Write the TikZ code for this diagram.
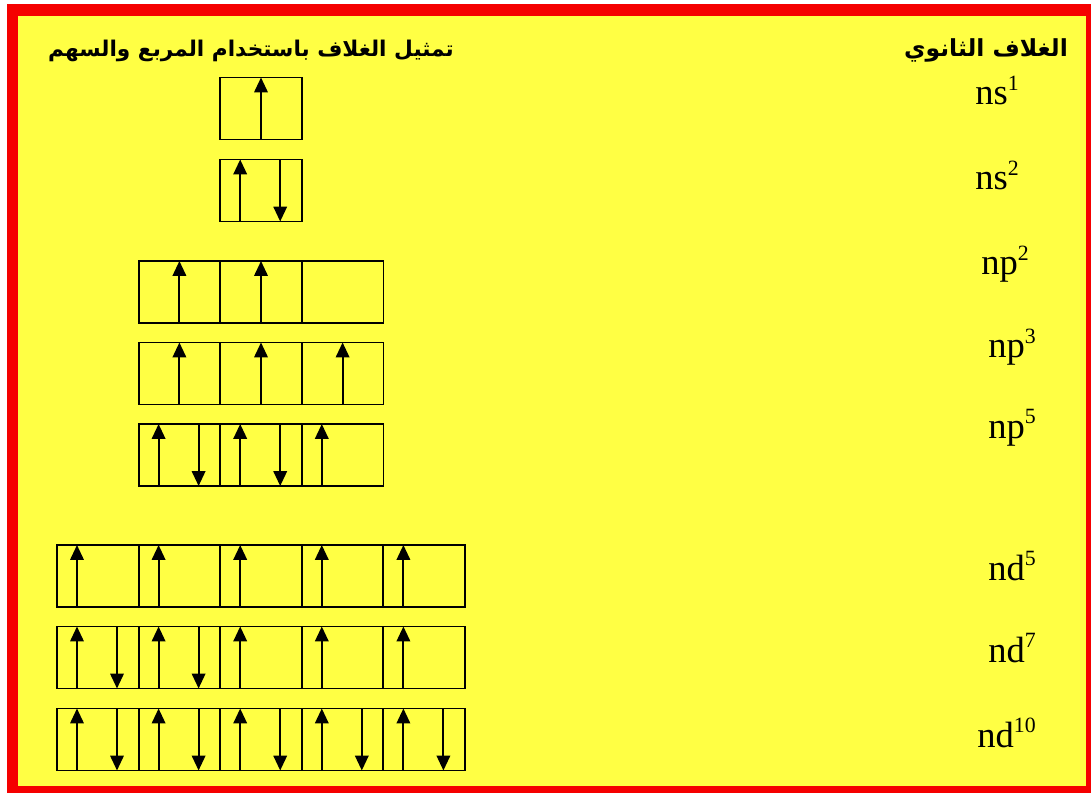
\documentclass[tikz,border=0pt]{standalone}
\usepackage{fontspec}
\setmainfont{Liberation Serif}
\newfontfamily\arabicfont[Script=Arabic]{DejaVu Sans}
\TeXXeTstate=1
\usetikzlibrary{arrows.meta}
\definecolor{paneyellow}{RGB}{255,255,68}
\definecolor{framered}{RGB}{245,0,0}

\newcommand{\spinup}[2]{\draw[spin] ([xshift=#2]#1.south west) -- ([xshift=#2]#1.north west);}
\newcommand{\spindown}[2]{\draw[spin] ([xshift=#2]#1.north west) -- ([xshift=#2]#1.south west);}
\newcommand{\subshell}[2]{{\fontsize{26}{26}\selectfont #1}\raisebox{10pt}{\fontsize{15.5}{16}\selectfont #2}}

\begin{document}
\begin{tikzpicture}[x=0.025cm, y=-0.025cm,
  orb/.style={draw, line width=1.3pt, minimum width=2.04cm, minimum height=1.55cm, inner sep=0pt, outer sep=0pt},
  spin/.style={line width=1.4pt, -{Triangle[width=9.5pt,length=10.5pt]}},
  lvl/.style={anchor=base west, inner sep=0pt},
  head/.style={font={\arabicfont\bfseries\fontsize{#1}{20}\selectfont}, inner sep=0pt}]
  \useasboundingbox (0,0) rectangle (1091,793);
  % Frame
  \fill[framered] (7,4) rectangle (1091,793);
  \fill[paneyellow] (18,16) rectangle (1086,786);
  % Headings
  \node[head=15.4] (boxhead) at (251,51) {\beginR تمثيل الغلاف باستخدام المربع والسهم\endR};
  \node[head=16.7] (shellhead) at (986,50) {\beginR الغلاف الثانوي\endR};
  % s sublevels
  \node[orb] (s1a) at (261,108.5) {};
  \spinup{s1a}{1.02cm}
  \node[orb] (s2a) at (261,190.5) {};
  \spinup{s2a}{0.5cm} \spindown{s2a}{1.5cm}
  % p sublevels
  \node[orb] (p2a) at (179.4,292) {};
  \node[orb] (p2b) at (261,292) {};
  \node[orb] (p2c) at (342.6,292) {};
  \spinup{p2a}{1.02cm} \spinup{p2b}{1.02cm}
  \node[orb] (p3a) at (179.4,373.5) {};
  \node[orb] (p3b) at (261,373.5) {};
  \node[orb] (p3c) at (342.6,373.5) {};
  \spinup{p3a}{1.02cm} \spinup{p3b}{1.02cm} \spinup{p3c}{1.02cm}
  \node[orb] (p5a) at (179.4,455) {};
  \node[orb] (p5b) at (261,455) {};
  \node[orb] (p5c) at (342.6,455) {};
  \spinup{p5a}{0.5cm} \spindown{p5a}{1.5cm}
  \spinup{p5b}{0.5cm} \spindown{p5b}{1.5cm}
  \spinup{p5c}{0.5cm}
  % d sublevels
  \foreach \c [count=\i] in {97.8,179.4,261,342.6,424.2} {
    \node[orb] (d5\i) at (\c,576) {};
    \spinup{d5\i}{0.5cm}
    \node[orb] (d7\i) at (\c,657.5) {};
    \spinup{d7\i}{0.5cm}
    \node[orb] (d10\i) at (\c,739.5) {};
    \spinup{d10\i}{0.5cm} \spindown{d10\i}{1.5cm}
  }
  \spindown{d71}{1.5cm} \spindown{d72}{1.5cm}
  % Sublevel labels
  \node[lvl] (ns1) at (975,105) {\subshell{ns}{1}};
  \node[lvl] (ns2) at (975,190) {\subshell{ns}{2}};
  \node[lvl] (np2) at (981,275) {\subshell{np}{2}};
  \node[lvl] (np3) at (988,358) {\subshell{np}{3}};
  \node[lvl] (np5) at (988,438) {\subshell{np}{5}};
  \node[lvl] (nd5) at (988,580) {\subshell{nd}{5}};
  \node[lvl] (nd7) at (988,662) {\subshell{nd}{7}};
  \node[lvl] (nd10) at (977,747) {\subshell{nd}{10}};
\end{tikzpicture}
\end{document}
